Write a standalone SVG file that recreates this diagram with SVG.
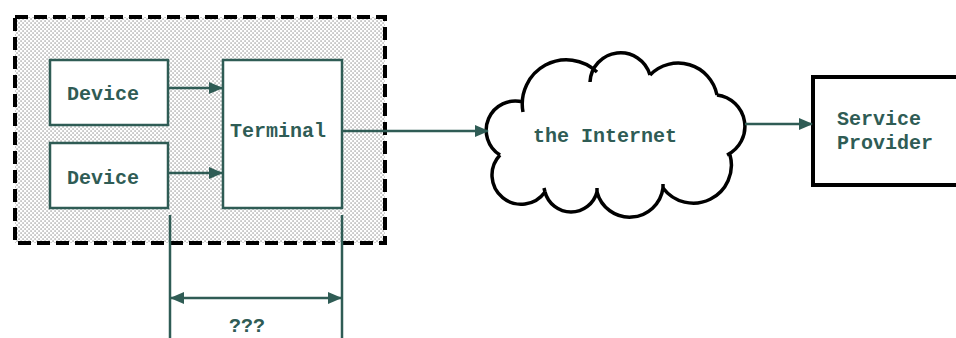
<svg xmlns="http://www.w3.org/2000/svg" width="956" height="338" viewBox="0 0 956 338">
<style>
.lbl{font-family:"Liberation Mono","Courier New",monospace;font-weight:bold;font-size:20px;fill:#2f5c55}
.box{fill:#fff;stroke:#2f5c55;stroke-width:2.5}
.ln{stroke:#2f5c55;stroke-width:2.5;fill:none}
.cl{fill:none;stroke:#000;stroke-width:3.5;stroke-linecap:butt}
</style>
<defs>
<pattern id="dots" width="4" height="4" patternUnits="userSpaceOnUse">
<rect width="4" height="4" fill="#fff"/>
<rect x="0.5" y="0.5" width="1.1" height="1.1" fill="#666"/>
<rect x="2.5" y="2.5" width="1.1" height="1.1" fill="#666"/>
</pattern>
<marker id="ah" markerWidth="14" markerHeight="12" refX="13" refY="6" orient="auto" markerUnits="userSpaceOnUse">
<path d="M0,0 L14,6 L0,12 Z" fill="#2f5c55"/>
</marker>
<marker id="ahs" markerWidth="14" markerHeight="12" refX="1" refY="6" orient="auto" markerUnits="userSpaceOnUse">
<path d="M14,0 L0,6 L14,12 Z" fill="#2f5c55"/>
</marker>
</defs>
<g id="container">
<rect x="15" y="17" width="370" height="226" fill="url(#dots)" stroke="#000" stroke-width="4" stroke-dasharray="13 6"/>
</g>
<g id="device1">
<rect class="box" x="50" y="60" width="118" height="65"/>
<text class="lbl" x="67" y="100">Device</text>
</g>
<g id="device2">
<rect class="box" x="50" y="143" width="118" height="65"/>
<text class="lbl" x="67" y="184">Device</text>
</g>
<g id="terminal">
<rect class="box" x="223" y="60" width="119" height="148"/>
<text class="lbl" x="230" y="137">Terminal</text>
</g>
<g id="internet">
<path class="cl" d="M500,155 A29.2,29.2 0 0 1 523,102 M523,112 A44.2,44.2 0 0 1 597,72 M590,82 A30.6,30.6 0 0 1 650,75 M650,75 A39.5,39.5 0 0 1 717,95 M717,95 A31.7,31.7 0 0 1 727,155 M730,155 A38,38 0 0 1 663,188 M663,188 A33.7,33.7 0 0 1 597,192 M597,192 A26.9,26.9 0 0 1 545,192 M545,192 A29.2,29.2 0 1 1 500,155"/>
<path class="cl" d="M663,188 L663,184 M597,192 L597,188 M545,192 L544,188"/>
<text class="lbl" x="533" y="142">the Internet</text>
</g>
<g id="provider">
<rect x="813" y="77" width="160" height="108" fill="#fff" stroke="#000" stroke-width="4"/>
<text class="lbl" x="837" y="125">Service</text>
<text class="lbl" x="837" y="149">Provider</text>
</g>
<g id="connectors">
<line class="ln" x1="168" y1="88" x2="222" y2="88" marker-end="url(#ah)"/>
<line class="ln" x1="168" y1="173" x2="222" y2="173" marker-end="url(#ah)"/>
<line class="ln" x1="342" y1="131" x2="488" y2="131" marker-end="url(#ah)"/>
<line class="ln" x1="745" y1="124" x2="812" y2="124" marker-end="url(#ah)"/>
<line class="ln" x1="170" y1="215" x2="170" y2="338"/>
<line class="ln" x1="342" y1="215" x2="342" y2="338"/>
<line class="ln" x1="171" y1="298" x2="341" y2="298" marker-start="url(#ahs)" marker-end="url(#ah)"/>
</g>
<g id="dimension">
<text class="lbl" x="247" y="332" text-anchor="middle">???</text>
</g>
</svg>
